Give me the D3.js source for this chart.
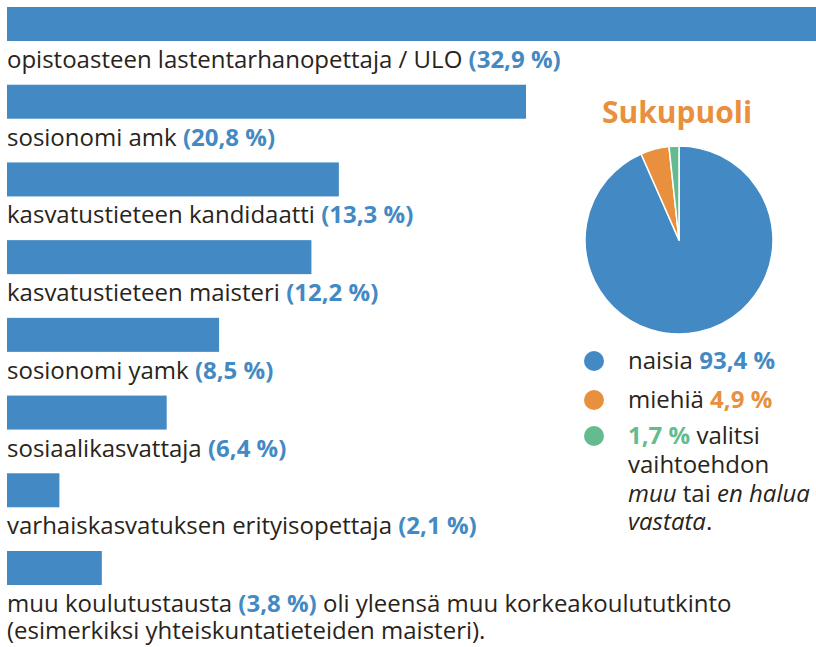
<!DOCTYPE html>
<html>
<head>
<meta charset="utf-8">
<script src="https://cdn.jsdelivr.net/npm/d3@7"></script>
<style>
  body { margin: 0; background: #fff; }
  svg { display: block; font-family: "Open Sans", sans-serif; }
</style>
</head>
<body>
<div id="chart"></div>
<script>
// koulutustausta
const categories = [
    "opistoasteen lastentarhanopettaja / ULO",
    "sosionomi amk",
    "kasvatustieteen kandidaatti",
    "kasvatustieteen maisteri",
    "sosionomi yamk",
    "sosiaalikasvattaja",
    "varhaiskasvatuksen erityisopettaja",
    "muu koulutustausta"
];
const shares = [32.9, 20.8, 13.3, 12.2, 8.5, 6.4, 2.1, 3.8];
const lastNote = [" oli yleensä muu korkeakoulututkinto", "(esimerkiksi yhteiskuntatieteiden maisteri)."];

// sukupuoli
const genderTitle = "Sukupuoli";
const genderKeys = ["naisia", "miehiä", "muu"];
const genderShares = [93.4, 4.9, 1.7];

const width = 816, height = 647;
const blue = "#438ac4", orange = "#e8903d", green = "#64bb8e", ink = "#29241a";
const genderColors = [blue, orange, green];
const fontSize = 24;

const pct = (v) => d3.format(".1f")(v).replace(".", ",") + " %";

const svg = d3.select("#chart")
    .append("svg")
    .attr("width", width)
    .attr("height", height);

const xScale = d3.scaleLinear()
    .domain([0, 20.8])
    .range([7, 526]);

const yScale = d3.scaleBand()
    .domain(categories)
    .range([7, 585])
    .paddingInner(0.5625)
    .paddingOuter(0);

const drawBars = () => {
    svg.selectAll("rect.bar")
        .data(categories)
        .enter().append("rect")
        .attr("class", "bar")
        .attr("x", xScale(0))
        .attr("y", (d) => yScale(d))
        .attr("width", (d, i) => xScale(shares[i]) - xScale(0))
        .attr("height", yScale.bandwidth())
        .attr("fill", blue);

    const labels = svg.selectAll("text.label")
        .data(categories)
        .enter().append("text")
        .attr("class", "label")
        .attr("x", 7)
        .attr("y", (d) => yScale(d) + yScale.bandwidth() + 27)
        .attr("font-size", fontSize)
        .attr("fill", ink);
    labels.append("tspan").text((d) => d + " ");
    labels.append("tspan")
        .attr("font-weight", "bold")
        .attr("fill", blue)
        .text((d, i) => "(" + pct(shares[i]) + ")");

    // jatko viimeiselle riville
    const last = labels.filter((d, i) => i === categories.length - 1);
    last.append("tspan").text(lastNote[0]);
    svg.append("text")
        .attr("x", 7)
        .attr("y", yScale(categories[categories.length - 1]) + yScale.bandwidth() + 54)
        .attr("font-size", fontSize)
        .attr("fill", ink)
        .text(lastNote[1]);
};

const drawPie = () => {
    const cx = 679, cy = 240, r = 94;
    svg.append("text")
        .attr("x", 677)
        .attr("y", 123)
        .attr("text-anchor", "middle")
        .attr("font-size", 30)
        .attr("font-weight", "bold")
        .attr("fill", orange)
        .text(genderTitle);

    const pie = d3.pie().sort(null).value((d) => d);
    const arc = d3.arc().innerRadius(0).outerRadius(r);
    svg.append("g")
        .attr("transform", "translate(" + cx + "," + cy + ")")
        .selectAll("path")
        .data(pie(genderShares))
        .enter().append("path")
        .attr("d", arc)
        .attr("fill", (d, i) => genderColors[i])
        .attr("stroke", "#fff")
        .attr("stroke-width", 1.5)
        .attr("stroke-linejoin", "round");
};

const drawLegend = () => {
    const rows = [361, 400, 436];
    const legend = svg.append("g");
    legend.selectAll("circle")
        .data(genderShares)
        .enter().append("circle")
        .attr("cx", 594)
        .attr("cy", (d, i) => rows[i])
        .attr("r", 10)
        .attr("fill", (d, i) => genderColors[i]);

    const t1 = legend.append("text").attr("x", 628).attr("y", rows[0] + 8)
        .attr("font-size", fontSize).attr("fill", ink);
    t1.append("tspan").text(genderKeys[0] + " ");
    t1.append("tspan").attr("font-weight", "bold").attr("fill", blue).text(pct(genderShares[0]));

    const t2 = legend.append("text").attr("x", 628).attr("y", rows[1] + 8)
        .attr("font-size", fontSize).attr("fill", ink);
    t2.append("tspan").text(genderKeys[1] + " ");
    t2.append("tspan").attr("font-weight", "bold").attr("fill", orange).text(pct(genderShares[1]));

    const t3 = legend.append("text").attr("x", 628).attr("y", rows[2] + 8)
        .attr("font-size", fontSize).attr("fill", ink);
    t3.append("tspan").attr("font-weight", "bold").attr("fill", green).text(pct(genderShares[2]));
    t3.append("tspan").text(" valitsi");
    t3.append("tspan").attr("x", 628).attr("dy", 29).text("vaihtoehdon");
    t3.append("tspan").attr("x", 628).attr("dy", 29).attr("font-style", "italic").text(genderKeys[2]);
    t3.append("tspan").text(" tai ");
    t3.append("tspan").attr("font-style", "italic").text("en halua");
    t3.append("tspan").attr("x", 628).attr("dy", 28).attr("font-style", "italic").text("vastata");
    t3.append("tspan").text(".");
};

drawBars();
drawPie();
drawLegend();
</script>
</body>
</html>
